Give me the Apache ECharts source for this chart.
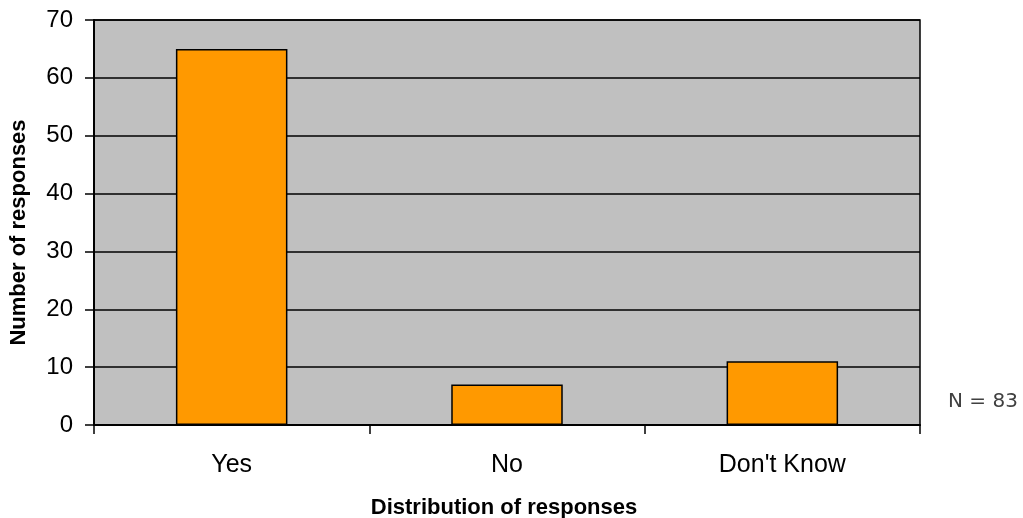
<!DOCTYPE html>
<html><head><meta charset="utf-8">
<script src="https://cdn.jsdelivr.net/npm/echarts@6/dist/echarts.min.js"></script>
<style>html,body{margin:0;padding:0;background:#fff}#c{width:1023px;height:518px}</style>
</head><body><div id="c"></div>
<script>
const categories = ["Yes", "No", "Don't Know"];
const values = [65, 7, 11];
const yTicks = [0, 10, 20, 30, 40, 50, 60, 70];
const xTitle = "Distribution of responses";
const yTitle = "Number of responses";
const note = "N = 83";

const chart = echarts.init(document.getElementById('c'), null, {renderer: 'canvas'});
chart.setOption({
  animation: false,
  grid: {left: 94, right: 103, top: 20, bottom: 93, outerBoundsMode: 'none', containLabel: false,
         show: true, backgroundColor: '#c0c0c0', borderColor: '#000', borderWidth: 1.5},
  xAxis: {
    type: 'category', data: categories,
    name: xTitle, nameLocation: 'middle', nameGap: 72,
    nameTextStyle: {fontFamily: 'Liberation Sans, Arial', fontWeight: 'bold', fontSize: 22, color: '#000', padding: [0, 6, 0, 0]},
    axisLine: {lineStyle: {color: '#000', width: 2}},
    axisTick: {show: true, length: 9, lineStyle: {color: '#000', width: 1.5}},
    axisLabel: {fontFamily: 'Liberation Sans, Arial', fontSize: 25, color: '#000', margin: 28}
  },
  yAxis: {
    type: 'value', min: yTicks[0], max: yTicks[yTicks.length - 1], interval: 10,
    name: yTitle, nameLocation: 'middle', nameGap: 64, nameRotate: 90,
    nameTextStyle: {fontFamily: 'Liberation Sans, Arial', fontWeight: 'bold', fontSize: 22, color: '#000', padding: [0, 20, 0, 0]},
    axisLine: {show: true, lineStyle: {color: '#000', width: 2}},
    axisTick: {show: true, length: 9, lineStyle: {color: '#000', width: 1.5}},
    axisLabel: {fontFamily: 'Liberation Sans, Arial', fontSize: 24, color: '#000', margin: 21},
    splitLine: {show: true, lineStyle: {color: '#000', width: 1.5}}
  },
  series: [{
    type: 'bar', data: values, barWidth: '40.5%',
    itemStyle: {color: '#ff9900', borderColor: '#000', borderWidth: 1.5}
  }],
  graphic: [{
    type: 'text', left: 948, top: 392,
    style: {text: note, font: '20px "DejaVu Sans"', fill: '#404040'}
  }]
});
</script></body></html>
